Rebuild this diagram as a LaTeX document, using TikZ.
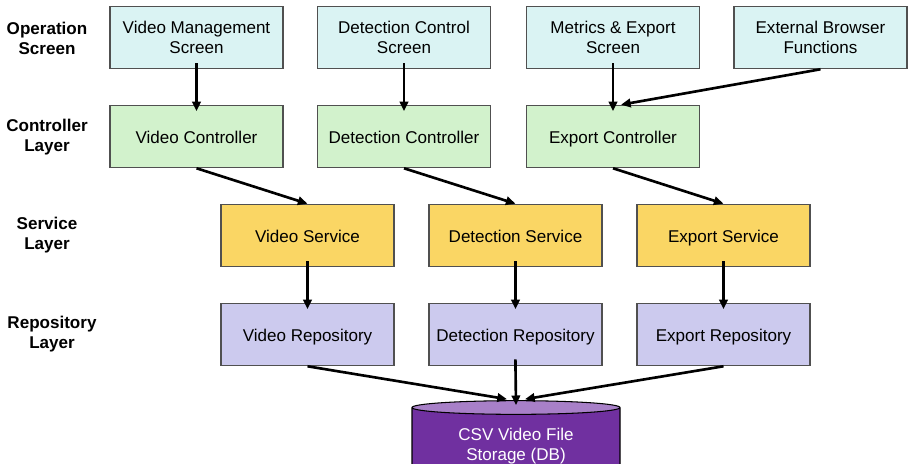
\documentclass[tikz,border=0pt]{standalone}
\usepackage{fontspec}
\setmainfont{Liberation Sans}
\usetikzlibrary{shapes.geometric, arrows.meta, positioning, calc}
\definecolor{lyCyan}{RGB}{218,243,243}
\definecolor{lyGreen}{RGB}{210,242,204}
\definecolor{lyYellow}{RGB}{250,214,100}
\definecolor{lyLilac}{RGB}{204,202,238}
\definecolor{lyPurple}{RGB}{112,48,160}
\definecolor{lyPurpleLt}{RGB}{168,128,200}
\definecolor{lyEdge}{RGB}{80,80,80}
\tikzset{
  layerbox/.style={rectangle, draw=lyEdge, line width=0.6pt, align=center,
    minimum width=3.46cm, minimum height=1.25cm, inner sep=2pt,
    font=\fontsize{9.7}{11.4}\selectfont},
  screenbox/.style={layerbox, fill=lyCyan},
  onelinebox/.style={layerbox, text height=9.5pt, text depth=1pt},
  ctrlbox/.style={onelinebox, fill=lyGreen},
  servbox/.style={onelinebox, fill=lyYellow},
  repobox/.style={onelinebox, fill=lyLilac},
  layerlabel/.style={align=center, font=\fontsize{9.7}{11.4}\selectfont\bfseries},
  dbnode/.style={cylinder, shape border rotate=90, aspect=0.115, draw=black,
    line width=0.6pt, cylinder uses custom fill, cylinder body fill=lyPurple,
    cylinder end fill=lyPurpleLt, minimum width=4.16cm, minimum height=1.66cm,
    text=white, align=center, inner sep=1pt, font=\fontsize{9.7}{11.4}\selectfont},
  arrow/.style={-{Triangle[length=5.5pt,width=4.8pt]}, line width=1.5pt, color=black},
  varrow/.style={arrow, shorten <=-0.12cm, shorten >=-0.13cm},
}
\begin{document}
\begin{tikzpicture}
\useasboundingbox (0,0) rectangle (18.18,-9.28);

%% LAYER LABELS
\node[layerlabel] (op_label)   at (0.94, -0.76) {Operation\\Screen};
\node[layerlabel] (ctl_label)  at (0.94, -2.74) {Controller\\Layer};
\node[layerlabel] (srv_label)  at (0.94, -4.70) {Service\\Layer};
\node[layerlabel] (repo_label) at (1.04, -6.68) {Repository\\Layer};

%% OPERATION SCREENS
\node[screenbox] (video_scr)  at (3.93, -0.75)  {Video Management\\Screen};
\node[screenbox] (detect_scr) at (8.08, -0.75)  {Detection Control\\Screen};
\node[screenbox] (export_scr) at (12.26, -0.75) {Metrics \& Export\\Screen};
\node[screenbox] (browser_fn) at (16.41, -0.75) {External Browser\\Functions};

%% CONTROLLERS
\node[ctrlbox] (video_ctl)  at (3.93, -2.73)  {Video Controller};
\node[ctrlbox] (detect_ctl) at (8.08, -2.73)  {Detection Controller};
\node[ctrlbox] (export_ctl) at (12.26, -2.73) {Export Controller};

%% SERVICES
\node[servbox] (video_srv)  at (6.15, -4.71)  {Video Service};
\node[servbox] (detect_srv) at (10.31, -4.71) {Detection Service};
\node[servbox] (export_srv) at (14.47, -4.71) {Export Service};

%% REPOSITORIES
\node[repobox] (video_repo)  at (6.15, -6.69)  {Video Repository};
\node[repobox] (detect_repo) at (10.31, -6.69) {Detection Repository};
\node[repobox] (export_repo) at (14.47, -6.69) {Export Repository};

%% STORAGE (runs off the bottom edge)
\node[dbnode] (storage) at (10.32, -8.93) {CSV Video File\\Storage (DB)};

%% ARROWS -- screens to controllers
\draw[varrow] (video_scr.south)  -- (video_ctl.north);
\draw[varrow] (detect_scr.south) -- (detect_ctl.north);
\draw[varrow] (export_scr.south) -- (export_ctl.north);
\draw[arrow] (browser_fn.south) -- ([xshift=0.16cm]export_ctl.north);

%% ARROWS -- controllers to services
\draw[arrow] (video_ctl.south)  -- (video_srv.north);
\draw[arrow] (detect_ctl.south) -- (detect_srv.north);
\draw[arrow] (export_ctl.south) -- (export_srv.north);

%% ARROWS -- services to repositories
\draw[varrow] (video_srv.south)  -- (video_repo.north);
\draw[varrow] (detect_srv.south) -- (detect_repo.north);
\draw[varrow] (export_srv.south) -- (export_repo.north);

%% ARROWS -- repositories into storage
\draw[arrow] (video_repo.south) -- ([xshift=-0.18cm, yshift=0.02cm]storage.north);
\draw[arrow, shorten <=-0.14cm] (detect_repo.south) -- ([yshift=-0.1cm]storage.north);
\draw[arrow] (export_repo.south) -- ([xshift=0.18cm, yshift=0.02cm]storage.north);

\end{tikzpicture}
\end{document}
